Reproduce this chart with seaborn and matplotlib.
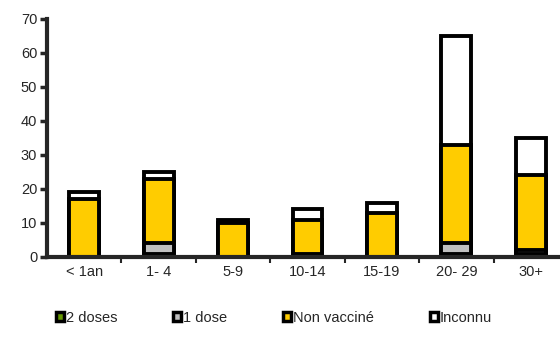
import numpy as np
import matplotlib
matplotlib.use("Agg")
import matplotlib.pyplot as plt
from matplotlib.patches import Patch
import seaborn as sns

# Cases by age group and vaccination status
categories = ["< 1an", "1- 4", "5-9", "10-14", "15-19", "20- 29", "30+"]
deux_doses = [0, 1, 0, 0, 0, 1, 1]
une_dose = [0, 3, 0, 1, 0, 3, 1]
non_vaccine = [17, 19, 10, 10, 13, 29, 22]
inconnu = [2, 2, 1, 3, 3, 32, 11]
series_names = ["2 doses", "1 dose", "Non vacciné", "Inconnu"]
y_ticks = [0, 10, 20, 30, 40, 50, 60, 70]

colors = ["#669900", "#C0C0C0", "#FFCC00", "#FFFFFF"]

sns.set_style("ticks")
plt.rcParams["font.family"] = ["Liberation Sans", "DejaVu Sans"]

fig = plt.figure(figsize=(5.6, 3.48), dpi=100)
ax = fig.add_axes([47 / 560, 91 / 348, 521 / 560, 238 / 348])

layers = [deux_doses, une_dose, non_vaccine, inconnu]
cum = np.cumsum(np.array(layers), axis=0)

# Stacked bars: draw the cumulative totals from the top layer down
for k in range(len(layers) - 1, -1, -1):
    sns.barplot(x=categories, y=cum[k], order=categories, color=colors[k],
                saturation=1, edgecolor="black", linewidth=2.8, width=0.4,
                errorbar=None, ax=ax)

ax.set_xlim(-0.5, 6.5)
ax.set_ylim(0, 70)
ax.set_yticks(y_ticks)
ax.set_yticklabels([str(v) for v in y_ticks], fontsize=10.5)

# Ticks between groups, labels centred under bars
ax.set_xticks(np.arange(0.5, 6.5, 1.0))
ax.set_xticklabels([])
ax.set_xticks(range(len(categories)), minor=True)
ax.set_xticklabels(categories, minor=True, fontsize=10.5)
ax.tick_params(axis="x", which="minor", length=0, pad=6)
ax.tick_params(axis="x", which="major", length=4, width=1.5, direction="out")
ax.tick_params(axis="y", length=5, width=2.5, direction="out", pad=2)

for s in ["top", "right"]:
    ax.spines[s].set_visible(False)
ax.spines["left"].set_linewidth(3)
ax.spines["bottom"].set_linewidth(3)
ax.set_xlabel("")
ax.set_ylabel("")

handles = [Patch(facecolor=c, edgecolor="black", linewidth=2.5) for c in colors]
fig.legend(handles, series_names, loc="center left", bbox_to_anchor=(56 / 560, 30 / 348),
           ncol=4, frameon=False, fontsize=10.5, handlelength=0.55, handleheight=0.55,
           handletextpad=0.12, columnspacing=3.85, borderpad=0, borderaxespad=0)

fig.savefig("out.png", dpi=100, facecolor="white")
